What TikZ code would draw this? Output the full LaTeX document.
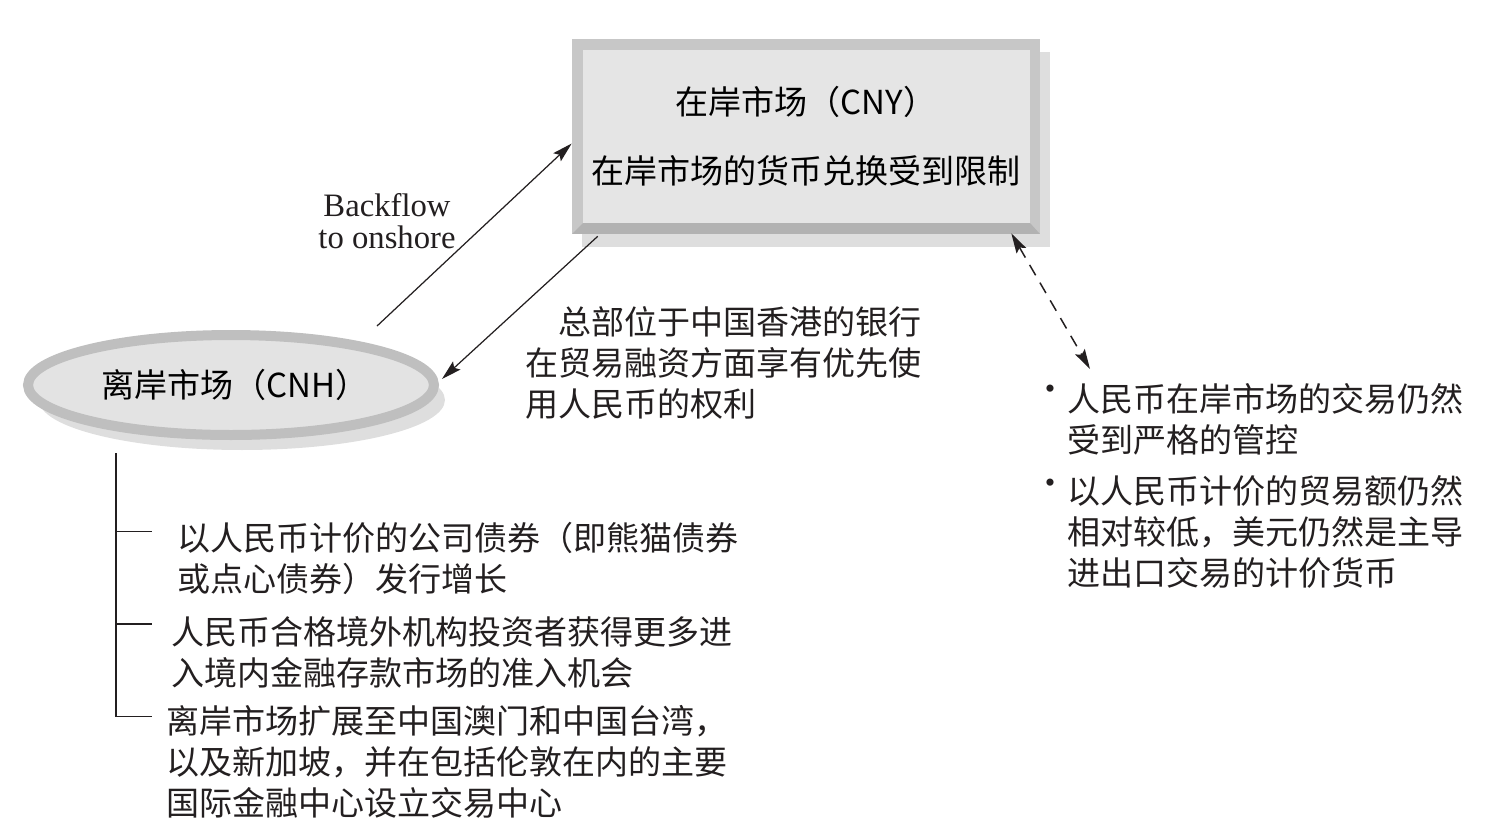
\documentclass[tikz,border=0pt]{standalone}
\usepackage{fontspec}
\setmainfont{Liberation Serif}
\newfontfamily\cjk{Noto Sans CJK SC}
\usepackage{tikz}
\usetikzlibrary{positioning, arrows.meta, calc, shapes.geometric, shadows}
\definecolor{boxface}{gray}{0.90}
\definecolor{bevellight}{gray}{0.78}
\definecolor{beveldark}{gray}{0.70}
\definecolor{ellfill}{gray}{0.89}
\definecolor{ellrim}{gray}{0.75}
\definecolor{softshadow}{gray}{0.87}
\definecolor{ink}{HTML}{231F20}

\newcommand{\zhfont}{\cjk\fontsize{18.8pt}{23.3pt}\selectfont}

\tikzset{
	onbox/.style={rectangle, fill=bevellight, minimum width=9.36cm, minimum height=3.9cm, inner sep=0pt,
		align=center, font=\cjk\fontsize{18.8pt}{39.1pt}\selectfont,
		drop shadow={shadow xshift=0.2cm, shadow yshift=-0.26cm, fill=softshadow, opacity=1},
		path picture={
			\fill[beveldark] (path picture bounding box.south west) -- (path picture bounding box.south east)
				-- ++(-10,-11) -- ($(path picture bounding box.south west)+(11,-11)$) -- cycle;
			\fill[boxface] ($(path picture bounding box.north west)+(11,11)$) rectangle ($(path picture bounding box.south east)+(-10,-11)$);
		}},
	offell/.style={ellipse, draw=ellrim, line width=0.2cm, fill=ellfill, minimum width=8.12cm, minimum height=2cm,
		inner sep=0pt, font=\cjk\fontsize{18.8pt}{23pt}\selectfont,
		drop shadow={shadow xshift=0.22cm, shadow yshift=-0.3cm, fill=softshadow, opacity=1}},
	zh/.style={inner sep=0pt, align=left, text=ink, font=\zhfont},
	en/.style={inner sep=0pt, align=center, text=ink, font=\fontsize{18.6pt}{18.1pt}\selectfont},
	dot/.style={inner sep=0pt, text=ink, font=\fontsize{17pt}{17pt}\selectfont},
	arr/.style={-{Stealth[length=0.4cm, width=0.22cm, inset=0.07cm]}, line width=0.7pt, draw=ink},
	dasharr/.style={{Stealth[length=0.4cm, width=0.22cm, inset=0.07cm]}-{Stealth[length=0.4cm, width=0.22cm, inset=0.07cm]},
		line width=0.85pt, draw=ink, dash pattern=on 0.24cm off 0.17cm},
	branch/.style={line width=0.75pt, draw=ink},
}

\begin{document}
\begin{tikzpicture}[x=0.02cm, y=-0.02cm]
	\useasboundingbox (0,0) rectangle (1510,833);

	\node[onbox] at (806, 136.5) (onshore) {在岸市场（CNY）\\在岸市场的货币兑换受到限制};
	\node[offell] at (231, 385) (offshore) {\hspace{0.15cm}离岸市场（CNH）};

	\node[en] at (387, 221) (backflow) {Backflow\\to onshore};
	\node[zh, anchor=west] at (525, 363) (hkbanks) {\hspace{1em}总部位于中国香港的银行\\在贸易融资方面享有优先使\\用人民币的权利};

	\draw[arr] ($(offshore.center)+(146,-59)$) -- ($(onshore.west)+(0,7)$);
	\draw[arr] ($(onshore.south west)+(26,2)$) -- ($(offshore.east)+(3,-6)$);

	% onshore notes
	\node[dot] at (1050, 392) (dot1) {•};
	\node[zh, anchor=west] at (1067, 419) (note1) {人民币在岸市场的交易仍然\\受到严格的管控};
	\node[dot] at (1050, 486) (dot2) {•};
	\node[zh, anchor=west] at (1067, 532) (note2) {以人民币计价的贸易额仍然\\相对较低，美元仍然是主导\\进出口交易的计价货币};
	\coordinate (dashend) at (1090, 369);
	\draw[dasharr] ($(onshore.south east)+(-29,-1)$) -- (dashend);

	% offshore developments
	\node[zh, anchor=west] at (177, 558) (item1) {以人民币计价的公司债券（即熊猫债券\\或点心债券）发行增长};
	\node[zh, anchor=west] at (171, 652) (item2) {人民币合格境外机构投资者获得更多进\\入境内金融存款市场的准入机会};
	\node[zh, anchor=west] at (166, 762) (item3) {离岸市场扩展至中国澳门和中国台湾，\\以及新加坡，并在包括伦敦在内的主要\\国际金融中心设立交易中心};

	\coordinate (trunk) at ($(offshore.south)+(-115,13)$);
	\coordinate (k1) at ($(item1.north west)+(-25,10)$);
	\coordinate (k2) at ($(item2.north west)+(-19,8)$);
	\coordinate (k3) at ($(item3.north west)+(-14,11)$);
	\draw[branch] (trunk) |- (k3);
	\draw[branch] (trunk |- k1) -- (k1);
	\draw[branch] (trunk |- k2) -- (k2);
\end{tikzpicture}
\end{document}
